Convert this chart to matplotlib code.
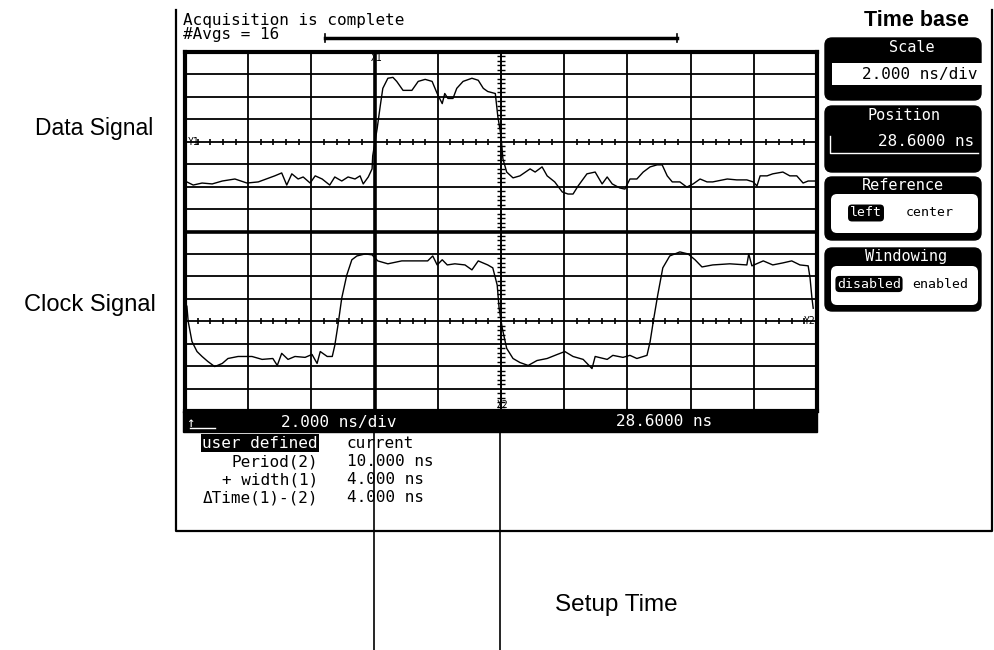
import matplotlib
matplotlib.use('Agg')

import numpy as np
import matplotlib.pyplot as plt
from matplotlib.patches import FancyBboxPatch, Rectangle

# time axis in screen divisions (2 ns/div, left edge = 28.6 ns), volts in divisions
data_t = [0.00, 0.13, 0.27, 0.43, 0.59, 0.79, 0.98, 1.16, 1.42, 1.53, 1.61, 1.69, 1.79,
          1.87, 1.98, 2.06, 2.17, 2.29, 2.37, 2.48, 2.58, 2.69, 2.77, 2.82, 2.90, 2.96,
          2.97, 3.04, 3.09, 3.13, 3.21, 3.29, 3.35, 3.45, 3.59, 3.69, 3.80, 3.91, 3.99,
          4.07, 4.11, 4.16, 4.24, 4.30, 4.40, 4.54, 4.64, 4.72, 4.79, 4.91, 4.95, 5.00,
          5.03, 5.09, 5.19, 5.30, 5.46, 5.54, 5.65, 5.73, 5.85, 5.97, 6.06, 6.14, 6.22,
          6.36, 6.49, 6.60, 6.68, 6.76, 6.88, 6.96, 7.04, 7.15, 7.25, 7.36, 7.47, 7.55,
          7.63, 7.71, 7.83, 7.94, 8.04, 8.15, 8.26, 8.35, 8.58, 8.73, 8.89, 8.99, 9.05,
          9.10, 9.21, 9.30, 9.46, 9.57, 9.68, 9.78, 9.86, 9.97]
data_v = [-1.75, -1.93, -1.84, -1.88, -1.75, -1.66, -1.84, -1.79, -1.52, -1.39, -1.93, -1.43, -1.66,
          -1.57, -1.84, -1.52, -1.66, -1.93, -1.57, -1.75, -1.57, -1.66, -1.52, -1.88, -1.57, -1.21,
          -0.63, 0.58, 1.61, 2.38, 2.83, 2.87, 2.69, 2.29, 2.29, 2.69, 2.78, 2.69, 2.15,
          1.70, 2.15, 1.93, 1.93, 2.38, 2.69, 2.83, 2.74, 2.38, 2.24, 2.15, 1.12, 0.27,
          -0.76, -1.35, -1.61, -1.52, -1.21, -1.35, -1.12, -1.52, -1.79, -2.24, -2.33, -2.33, -1.97,
          -1.43, -1.35, -1.88, -1.57, -1.88, -2.06, -2.11, -1.66, -1.66, -1.35, -1.12, -1.03, -1.03,
          -1.52, -1.79, -1.79, -2.02, -1.88, -1.66, -1.79, -1.79, -1.66, -1.70, -1.70, -1.79, -1.97,
          -1.52, -1.52, -1.43, -1.35, -1.52, -1.52, -1.84, -1.75, -1.75]

clock_t = [0.03, 0.05, 0.11, 0.19, 0.27, 0.36, 0.47, 0.59, 0.68, 0.84, 1.06, 1.22, 1.39,
           1.46, 1.53, 1.63, 1.74, 1.90, 2.01, 2.09, 2.14, 2.25, 2.33, 2.37, 2.42, 2.48,
           2.56, 2.64, 2.72, 2.85, 2.96, 3.05, 3.21, 3.43, 3.64, 3.84, 3.92, 3.99, 4.07,
           4.15, 4.27, 4.43, 4.54, 4.64, 4.79, 4.87, 4.94, 4.97, 5.02, 5.09, 5.19, 5.30,
           5.43, 5.57, 5.73, 5.89, 6.01, 6.14, 6.30, 6.44, 6.49, 6.68, 6.77, 6.93, 7.04,
           7.15, 7.31, 7.36, 7.41, 7.48, 7.56, 7.67, 7.83, 7.96, 8.07, 8.18, 8.35, 8.62,
           8.89, 8.92, 8.97, 9.15, 9.30, 9.46, 9.60, 9.73, 9.86, 9.89, 9.92, 9.94]
clock_v = [0.67, 0.00, -0.90, -1.35, -1.57, -1.79, -2.02, -1.88, -1.66, -1.57, -1.57, -1.70, -1.66,
           -1.97, -1.43, -1.70, -1.57, -1.61, -1.48, -1.88, -1.35, -1.57, -1.57, -1.08, -0.18, 1.03,
           2.06, 2.74, 2.91, 3.00, 2.96, 2.69, 2.56, 2.69, 2.69, 2.69, 2.91, 2.51, 2.74,
           2.51, 2.56, 2.51, 2.29, 2.69, 2.51, 2.38, 1.61, 0.58, -0.31, -1.21, -1.66, -1.84,
           -1.97, -1.75, -1.66, -1.48, -1.35, -1.57, -1.70, -2.11, -1.57, -1.70, -1.52, -1.61, -1.52,
           -1.66, -1.52, -0.90, 0.00, 1.17, 2.38, 2.91, 3.09, 3.00, 2.74, 2.42, 2.51, 2.56,
           2.51, 3.00, 2.47, 2.69, 2.51, 2.60, 2.69, 2.51, 2.47, 1.93, 1.03, 0.58]

x1_div = 3.0
x2_div = 5.0
scale_txt = "2.000 ns/div"
pos_txt = "28.6000 ns"
meas_names = ["Period(2)", "+ width(1)", "\u0394Time(1)-(2)"]
meas_vals = ["10.000 ns", "4.000 ns", "4.000 ns"]

mono = 'DejaVu Sans Mono'
sans = ['Liberation Sans', 'DejaVu Sans']
FS = 11.5   # screen font

fig = plt.figure(figsize=(9.95, 6.5), dpi=100)

# pixel-space layer for everything around the graticule
bg = fig.add_axes([0, 0, 1, 1])
bg.set_xlim(0, 995)
bg.set_ylim(650, 0)
bg.axis('off')

# outer screen frame
bg.plot([176, 176, 992, 992], [10, 531, 531, 10], color='black', lw=1.6)

bg.text(183, 20, "Acquisition is complete", family=mono, fontsize=FS, va='center')
bg.text(183, 35, "#Avgs = 16", family=mono, fontsize=FS, va='center')
bg.plot([325, 677], [38, 38], color='black', lw=2.5)
bg.plot([325, 325], [34, 42], color='black', lw=1.2)
bg.plot([677, 677], [34, 42], color='black', lw=1.2)

# black status bar under the graticule
bg.add_patch(Rectangle((183, 411), 634, 21, color='black'))
bg.text(186, 423, "\u2191", family=mono, fontsize=10, color='white', va='center')
bg.plot([190, 215], [428, 428], color='white', lw=1)
bg.text(281, 422, scale_txt, family=mono, fontsize=FS, color='white', va='center')
bg.text(664, 422, pos_txt, family=mono, fontsize=FS, color='white', va='center', ha='center')

# measurement readout
bg.text(318, 443, "user defined", family=mono, fontsize=FS, color='white', va='center', ha='right',
        bbox=dict(boxstyle='square,pad=0.08', fc='black', ec='none'))
bg.text(347, 443, "current", family=mono, fontsize=FS, va='center')
for i, (nm, vl) in enumerate(zip(meas_names, meas_vals)):
    yy = 462 + i * 18
    bg.text(318, yy, nm, family=mono, fontsize=FS, va='center', ha='right')
    bg.text(347, yy, vl, family=mono, fontsize=FS, va='center')

# cursor extensions down to the annotation
bg.plot([374, 374], [432, 650], color='black', lw=1.2)
bg.plot([500, 500], [432, 650], color='black', lw=1.2)

# right side softkey panel
bg.text(917, 21, "Time base", family=sans, fontsize=15.5, weight='bold', ha='center', va='center')


def panel(y0, y1):
    bg.add_patch(FancyBboxPatch((825, y0), 156, y1 - y0, boxstyle='round,pad=0,rounding_size=7',
                                fc='black', ec='black', lw=1))


def inner(y0, y1):
    bg.add_patch(FancyBboxPatch((831, y0), 147, y1 - y0, boxstyle='round,pad=0,rounding_size=6',
                                fc='white', ec='none'))


panel(38, 100)
bg.text(912, 47, "Scale", family=mono, fontsize=11, color='white', ha='center', va='center')
bg.add_patch(Rectangle((832, 63), 150, 22, fc='white', ec='none'))
bg.text(978, 74, scale_txt, family=mono, fontsize=11.5, ha='right', va='center')

panel(106, 172)
bg.text(904, 116, "Position", family=mono, fontsize=11, color='white', ha='center', va='center')
bg.text(974, 142, pos_txt, family=mono, fontsize=11.5, color='white', ha='right', va='center')
bg.plot([830, 830, 978], [136, 153, 153], color='white', lw=1)

panel(177, 240)
bg.text(903, 185, "Reference", family=mono, fontsize=11, color='white', ha='center', va='center')
inner(194, 233)
bg.text(866, 213, "left", family=mono, fontsize=9.5, color='white', ha='center', va='center',
        bbox=dict(boxstyle='round,pad=0.15,rounding_size=0.3', fc='black', ec='none'))
bg.text(930, 213, "center", family=mono, fontsize=9.5, ha='center', va='center')

panel(248, 311)
bg.text(906, 257, "Windowing", family=mono, fontsize=11, color='white', ha='center', va='center')
inner(266, 305)
bg.text(869, 284, "disabled", family=mono, fontsize=9.5, color='white', ha='center', va='center',
        bbox=dict(boxstyle='round,pad=0.12,rounding_size=0.3', fc='black', ec='none'))
bg.text(940, 284, "enabled", family=mono, fontsize=9.5, ha='center', va='center')

# annotations outside the screen
bg.text(35, 128, "Data Signal", family=sans, fontsize=16.5, va='center')
bg.text(24, 305, "Clock Signal", family=sans, fontsize=17, va='center')
bg.text(555, 605, "Setup Time", family=sans, fontsize=17.5, va='center')

# graticule: 10 x 16 divisions
L, R, T, B = 185, 817, 52, 411
ax = fig.add_axes([L / 995, 1 - B / 650, (R - L) / 995, (B - T) / 650])
ax.set_xlim(0, 10)
ax.set_ylim(-8, 8)
ax.set_xticks([])
ax.set_yticks([])
for s in ax.spines.values():
    s.set_linewidth(3)

for gx in range(1, 10):
    ax.axvline(gx, color='black', lw=1.3, zorder=1)
for gy in range(-7, 8):
    ax.axhline(gy, color='black', lw=2.6 if gy == 0 else 1.3, zorder=1)

# minor ticks on channel centre lines
minor = [m for m in np.arange(0.2, 10, 0.2) if abs(m - round(m)) > 0.05]
for cy in (4, -4):
    ax.vlines(minor, cy - 0.14, cy + 0.14, color='black', lw=1.2, zorder=1)

# cursors
ax.axvline(x1_div, color='black', lw=2.6, zorder=2)
ax.axvline(x2_div, color='black', lw=1.2, zorder=2)
ticks_y = [v for v in np.arange(-7.8, 8, 0.2) if abs(v - round(v)) > 0.05]
ax.hlines(ticks_y, x2_div - 0.06, x2_div + 0.06, color='black', lw=1, zorder=2)

ax.text(x1_div + 0.03, 7.75, "X1", family=mono, fontsize=7, ha='center', va='center')
ax.text(x2_div + 0.03, -7.75, "X2", family=mono, fontsize=7, ha='center', va='center')
ax.text(0.05, 4, "Y1", family=mono, fontsize=7, ha='left', va='center')
ax.text(9.97, -4, "Y2", family=mono, fontsize=7, ha='right', va='center')

ax.plot(data_t, np.array(data_v) + 4, color='black', lw=1.0, zorder=3)
ax.plot(clock_t, np.array(clock_v) - 4, color='black', lw=1.0, zorder=3)

fig.savefig('out.png', dpi=100)
